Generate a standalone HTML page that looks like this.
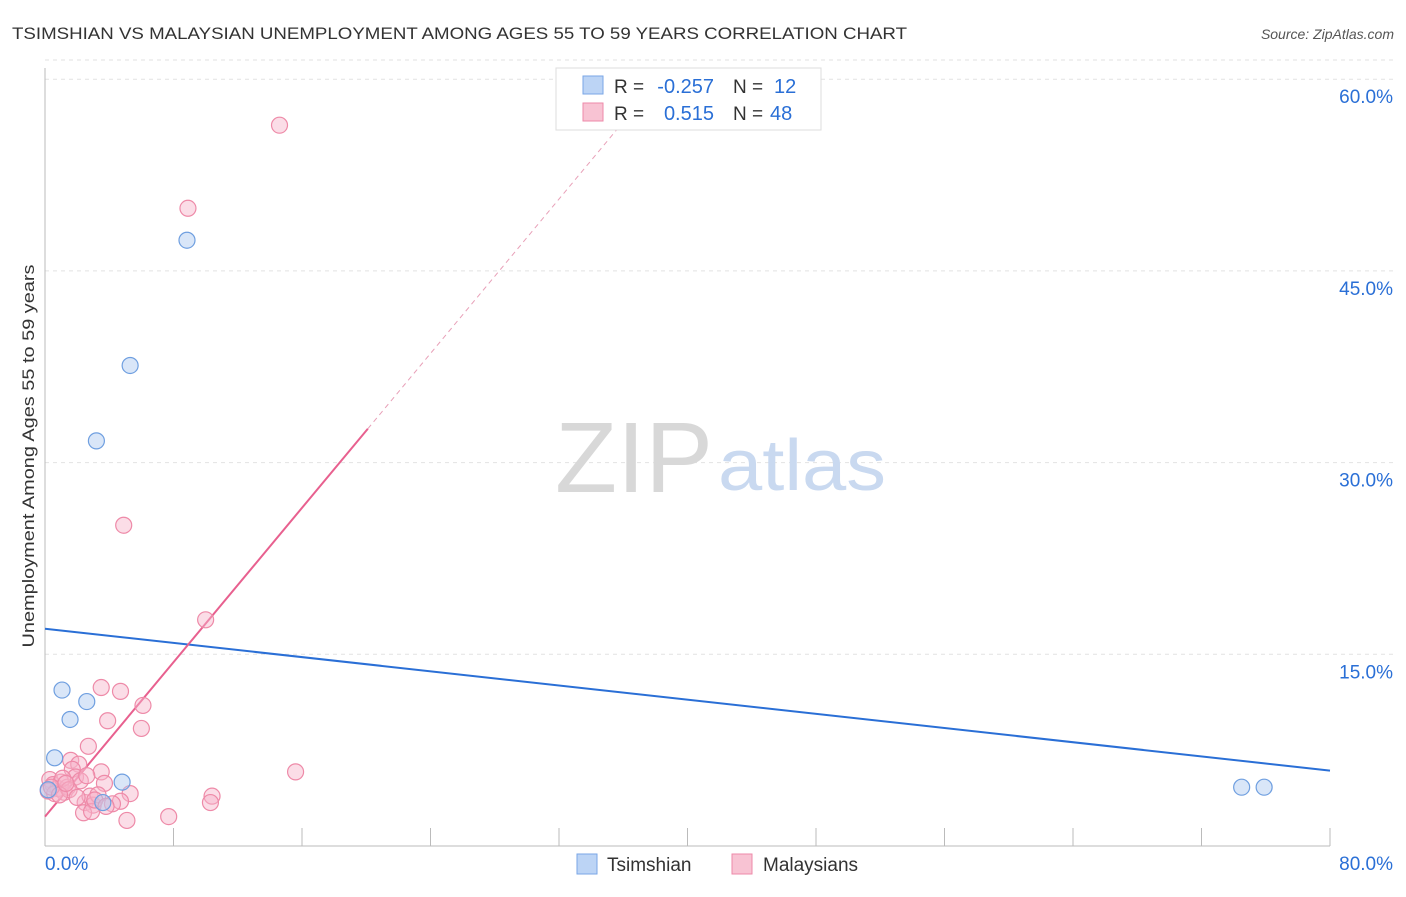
<!DOCTYPE html>
<html><head><meta charset="utf-8"><style>
body{margin:0;background:#fff;font-family:"Liberation Sans",sans-serif}
svg text{font-family:"Liberation Sans",sans-serif}
</style></head><body>
<svg id="chart" width="1406" height="892" viewBox="0 0 1406 892" xmlns="http://www.w3.org/2000/svg">
<text x="12" y="39" font-size="17" fill="#333" textLength="895" lengthAdjust="spacingAndGlyphs">TSIMSHIAN VS MALAYSIAN UNEMPLOYMENT AMONG AGES 55 TO 59 YEARS CORRELATION CHART</text>
<text x="1394" y="39" font-size="14" fill="#555" text-anchor="end" font-style="italic">Source: ZipAtlas.com</text>
<g id="grid"></g>
<g id="axes"></g>
<text x="555" y="492" font-size="100" fill="#d8d8d8" font-family="Liberation Serif" textLength="158" lengthAdjust="spacingAndGlyphs">ZIP</text>
<text x="718" y="490" font-size="72" fill="#c9d9f0" textLength="168" lengthAdjust="spacingAndGlyphs">atlas</text>
<g id="marks"></g>
<text transform="translate(34,456) rotate(-90)" font-size="17" fill="#333" text-anchor="middle" textLength="383" lengthAdjust="spacingAndGlyphs">Unemployment Among Ages 55 to 59 years</text>
<g>
<rect x="556" y="68" width="265" height="62" fill="#fff" stroke="#ddd"/>
<rect x="583" y="76" width="20" height="18" fill="#bcd4f5" stroke="#7aa6e6"/>
<text x="614" y="93" font-size="19" fill="#333">R =</text>
<text x="714" y="93" font-size="20" fill="#2a6fd6" text-anchor="end">-0.257</text>
<text x="733" y="93" font-size="19" fill="#333">N =</text>
<text x="774" y="93" font-size="20" fill="#2a6fd6">12</text>
<rect x="583" y="103" width="20" height="18" fill="#f8c3d3" stroke="#ee8aa8"/>
<text x="614" y="120" font-size="19" fill="#333">R =</text>
<text x="714" y="120" font-size="20" fill="#2a6fd6" text-anchor="end">0.515</text>
<text x="733" y="120" font-size="19" fill="#333">N =</text>
<text x="770" y="120" font-size="20" fill="#2a6fd6">48</text>
</g>
<g>
<rect x="577" y="854" width="20" height="20" fill="#bcd4f5" stroke="#7aa6e6"/>
<text x="607" y="871" font-size="19" fill="#333">Tsimshian</text>
<rect x="732" y="854" width="20" height="20" fill="#f8c3d3" stroke="#ee8aa8"/>
<text x="763" y="871" font-size="19" fill="#333">Malaysians</text>
</g>
</svg>
<script>
const yTicks=[15,30,45,60];
const yTickLabels=["15.0%","30.0%","45.0%","60.0%"];
const xTicks=[0,8,16,24,32,40,48,56,64,72,80];
const tsimX=[8.84,5.3,3.2,1.06,1.56,2.6,0.6,4.8,3.6,74.5,75.9,0.2];
const tsimY=[47.4,37.6,31.7,12.2,9.9,11.3,6.9,5.0,3.4,4.6,4.6,4.4];
const malX=[14.6,8.9,4.9,10.0,3.5,4.7,6.1,3.9,6.0,2.7,1.6,2.1,1.7,15.6,3.5,10.4,10.3,7.7,5.1,5.3,4.7,3.7,0.3,0.5,0.8,1.0,1.2,1.4,1.9,2.2,2.5,2.8,3.0,3.3,0.2,0.6,1.1,1.5,2.0,2.4,2.9,3.1,0.4,0.9,1.3,4.2,3.8,2.6];
const malY=[56.4,49.9,25.1,17.7,12.4,12.1,11.0,9.8,9.2,7.8,6.7,6.4,6.0,5.8,5.8,3.9,3.4,2.3,2.0,4.1,3.5,4.9,5.2,4.8,4.5,5.0,4.2,4.6,5.4,5.1,3.4,3.9,3.2,4.0,4.3,4.1,5.3,4.4,3.8,2.6,2.7,3.6,4.6,4.0,4.9,3.3,3.1,5.5];
const tsimLine=[17.0,5.9];
const malLine=[2.3,1.51];
const X=v=>45+v/80*1285, Y=v=>846-v*12.78;
const NS="http://www.w3.org/2000/svg";
function mk(t,a,p){const e=document.createElementNS(NS,t);for(const k in a)e.setAttribute(k,a[k]);p.appendChild(e);return e;}
const grid=document.getElementById('grid'),axes=document.getElementById('axes'),marks=document.getElementById('marks');
yTicks.forEach((v,i)=>{const l=mk('line',{x1:45,x2:1394,y1:Y(v),y2:Y(v),stroke:'#e2e2e2','stroke-dasharray':'4,4'},grid);


const t=mk('text',{x:1393,y:Y(v)+24,'font-size':19,fill:'#2a6fd6','text-anchor':'end'},axes);t.textContent=yTickLabels[i];

});
const tl=mk('line',{x1:45,x2:1394,y1:Y(61.5),y2:Y(61.5),stroke:'#e2e2e2','stroke-dasharray':'4,4'},grid);


const ya=mk('line',{x1:45,x2:45,y1:68,y2:846,stroke:'#bbb'},axes);


const xa=mk('line',{x1:45,x2:1330,y1:846,y2:846,stroke:'#bbb'},axes);


xTicks.forEach(v=>{const l=mk('line',{x1:X(v),x2:X(v),y1:828,y2:846,stroke:'#bbb'},axes);

});
[["0.0%",45,'start'],["80.0%",1393,'end']].forEach(a=>{const t=mk('text',{x:a[1],y:870,'font-size':19,fill:'#2a6fd6','text-anchor':a[2]},axes);t.textContent=a[0];

});
const bl=mk('line',{x1:X(0),y1:Y(tsimLine[0]),x2:X(80),y2:Y(tsimLine[1]),stroke:'#2a6fd6','stroke-width':2},marks);


const pl=mk('line',{x1:X(0),y1:Y(malLine[0]),x2:X(20.1),y2:Y(malLine[0]+malLine[1]*20.1),stroke:'#e8608f','stroke-width':2},marks);


const pd=mk('line',{x1:X(20.1),y1:Y(malLine[0]+malLine[1]*20.1),x2:X(36.1),y2:Y(malLine[0]+malLine[1]*36.1),stroke:'#e8a0b8','stroke-width':1,'stroke-dasharray':'5,4'},marks);


malX.forEach((v,i)=>{const c=mk('circle',{cx:X(v),cy:Y(malY[i]),r:8,fill:'rgba(247,180,202,0.45)',stroke:'#ee8aa8','stroke-width':1.2},marks);

});
tsimX.forEach((v,i)=>{const c=mk('circle',{cx:X(v),cy:Y(tsimY[i]),r:8,fill:'rgba(170,200,240,0.45)',stroke:'#6f9fe0','stroke-width':1.2},marks);

});
</script>
</body></html>
